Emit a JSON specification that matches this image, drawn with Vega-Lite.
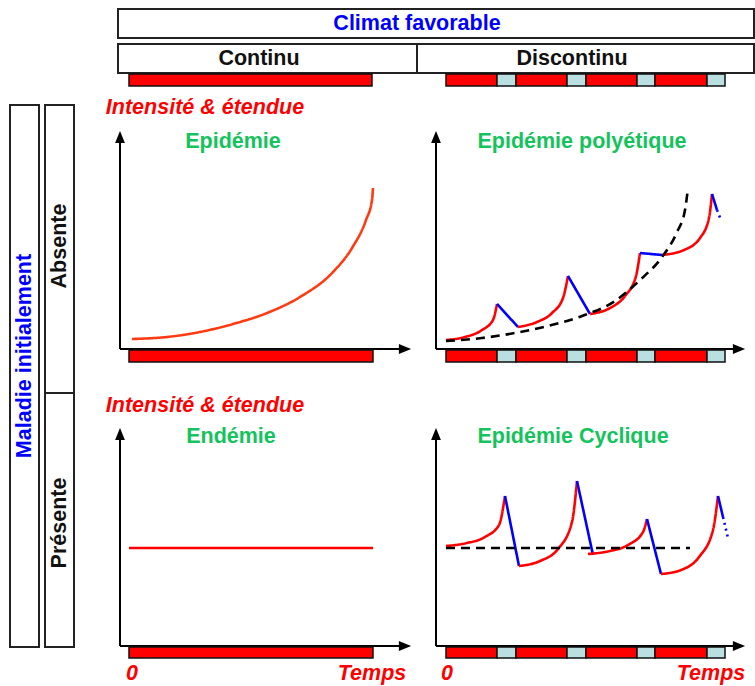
{
  "$schema": "https://vega.github.io/schema/vega-lite/v6.json",
  "width": 755,
  "height": 686,
  "autosize": {"type": "fit", "contains": "padding"},
  "padding": 0,
  "background": "white",
  "config": {"view": {"stroke": null}},
  "datasets": {
    "boxes": [
      {"name": "climat", "x1": 118, "x2": 754, "y1": 9, "y2": 38},
      {"name": "regime", "x1": 118, "x2": 754, "y1": 44, "y2": 73},
      {"name": "maladie", "x1": 10, "x2": 39, "y1": 105, "y2": 647},
      {"name": "etat", "x1": 45, "x2": 74, "y1": 105, "y2": 647}
    ],
    "dividers": [
      {"x1": 417, "x2": 417, "y1": 44, "y2": 73},
      {"x1": 45, "x2": 74, "y1": 393, "y2": 393}
    ],
    "bars": [
      {"panel": "header-continu", "phase": "favorable", "x1": 129, "x2": 372, "y1": 74, "y2": 86},
      {"panel": "header-discontinu", "phase": "favorable", "x1": 446, "x2": 497, "y1": 74, "y2": 86},
      {"panel": "header-discontinu", "phase": "defavorable", "x1": 497, "x2": 516, "y1": 74, "y2": 86},
      {"panel": "header-discontinu", "phase": "favorable", "x1": 516, "x2": 567, "y1": 74, "y2": 86},
      {"panel": "header-discontinu", "phase": "defavorable", "x1": 567, "x2": 586, "y1": 74, "y2": 86},
      {"panel": "header-discontinu", "phase": "favorable", "x1": 586, "x2": 637, "y1": 74, "y2": 86},
      {"panel": "header-discontinu", "phase": "defavorable", "x1": 637, "x2": 655, "y1": 74, "y2": 86},
      {"panel": "header-discontinu", "phase": "favorable", "x1": 655, "x2": 707, "y1": 74, "y2": 86},
      {"panel": "header-discontinu", "phase": "defavorable", "x1": 707, "x2": 725, "y1": 74, "y2": 86},
      {"panel": "epidemie", "phase": "favorable", "x1": 129, "x2": 373, "y1": 350, "y2": 362},
      {"panel": "polyetique", "phase": "favorable", "x1": 446, "x2": 497, "y1": 350, "y2": 362},
      {"panel": "polyetique", "phase": "defavorable", "x1": 497, "x2": 516, "y1": 350, "y2": 362},
      {"panel": "polyetique", "phase": "favorable", "x1": 516, "x2": 567, "y1": 350, "y2": 362},
      {"panel": "polyetique", "phase": "defavorable", "x1": 567, "x2": 586, "y1": 350, "y2": 362},
      {"panel": "polyetique", "phase": "favorable", "x1": 586, "x2": 637, "y1": 350, "y2": 362},
      {"panel": "polyetique", "phase": "defavorable", "x1": 637, "x2": 655, "y1": 350, "y2": 362},
      {"panel": "polyetique", "phase": "favorable", "x1": 655, "x2": 707, "y1": 350, "y2": 362},
      {"panel": "polyetique", "phase": "defavorable", "x1": 707, "x2": 725, "y1": 350, "y2": 362},
      {"panel": "endemie", "phase": "favorable", "x1": 129, "x2": 373, "y1": 647, "y2": 658},
      {"panel": "cyclique", "phase": "favorable", "x1": 446, "x2": 497, "y1": 647, "y2": 658},
      {"panel": "cyclique", "phase": "defavorable", "x1": 497, "x2": 516, "y1": 647, "y2": 658},
      {"panel": "cyclique", "phase": "favorable", "x1": 516, "x2": 567, "y1": 647, "y2": 658},
      {"panel": "cyclique", "phase": "defavorable", "x1": 567, "x2": 586, "y1": 647, "y2": 658},
      {"panel": "cyclique", "phase": "favorable", "x1": 586, "x2": 637, "y1": 647, "y2": 658},
      {"panel": "cyclique", "phase": "defavorable", "x1": 637, "x2": 655, "y1": 647, "y2": 658},
      {"panel": "cyclique", "phase": "favorable", "x1": 655, "x2": 707, "y1": 647, "y2": 658},
      {"panel": "cyclique", "phase": "defavorable", "x1": 707, "x2": 725, "y1": 647, "y2": 658}
    ],
    "axes": [
      {"panel": "epidemie", "x1": 120, "y1": 140, "x2": 120, "y2": 349},
      {"panel": "epidemie", "x1": 120, "y1": 349, "x2": 403, "y2": 349},
      {"panel": "polyetique", "x1": 436, "y1": 140, "x2": 436, "y2": 349},
      {"panel": "polyetique", "x1": 436, "y1": 349, "x2": 737, "y2": 349},
      {"panel": "endemie", "x1": 120, "y1": 437, "x2": 120, "y2": 646},
      {"panel": "endemie", "x1": 120, "y1": 646, "x2": 403, "y2": 646},
      {"panel": "cyclique", "x1": 436, "y1": 437, "x2": 436, "y2": 646},
      {"panel": "cyclique", "x1": 436, "y1": 646, "x2": 737, "y2": 646}
    ],
    "arrows": [
      {"panel": "epidemie", "dir": "up", "x": 120, "y": 137},
      {"panel": "epidemie", "dir": "right", "x": 405, "y": 349},
      {"panel": "polyetique", "dir": "up", "x": 436, "y": 137},
      {"panel": "polyetique", "dir": "right", "x": 739, "y": 349},
      {"panel": "endemie", "dir": "up", "x": 120, "y": 434},
      {"panel": "endemie", "dir": "right", "x": 405, "y": 646},
      {"panel": "cyclique", "dir": "up", "x": 436, "y": 434},
      {"panel": "cyclique", "dir": "right", "x": 739, "y": 646}
    ],
    "curves": [
      {"seg": "e1", "kind": "croissance continue", "x": 132, "y": 339},
      {"seg": "e1", "kind": "croissance continue", "x": 167, "y": 337},
      {"seg": "e1", "kind": "croissance continue", "x": 200, "y": 332},
      {"seg": "e1", "kind": "croissance continue", "x": 233, "y": 324},
      {"seg": "e1", "kind": "croissance continue", "x": 267, "y": 313},
      {"seg": "e1", "kind": "croissance continue", "x": 300, "y": 297},
      {"seg": "e1", "kind": "croissance continue", "x": 333, "y": 272},
      {"seg": "e1", "kind": "croissance continue", "x": 352, "y": 248},
      {"seg": "e1", "kind": "croissance continue", "x": 366, "y": 220},
      {"seg": "e1", "kind": "croissance continue", "x": 372, "y": 200},
      {"seg": "e1", "kind": "croissance continue", "x": 373, "y": 188},

      {"seg": "p1", "kind": "croissance", "x": 446, "y": 340},
      {"seg": "p1", "kind": "croissance", "x": 465, "y": 337},
      {"seg": "p1", "kind": "croissance", "x": 482, "y": 330},
      {"seg": "p1", "kind": "croissance", "x": 493, "y": 320},
      {"seg": "p1", "kind": "croissance", "x": 497, "y": 304},
      {"seg": "pb1", "kind": "declin", "x": 497, "y": 304},
      {"seg": "pb1", "kind": "declin", "x": 518, "y": 327},
      {"seg": "p2", "kind": "croissance", "x": 518, "y": 327},
      {"seg": "p2", "kind": "croissance", "x": 537, "y": 322},
      {"seg": "p2", "kind": "croissance", "x": 552, "y": 313},
      {"seg": "p2", "kind": "croissance", "x": 563, "y": 298},
      {"seg": "p2", "kind": "croissance", "x": 568, "y": 276},
      {"seg": "pb2", "kind": "declin", "x": 568, "y": 276},
      {"seg": "pb2", "kind": "declin", "x": 590, "y": 314},
      {"seg": "p3", "kind": "croissance", "x": 590, "y": 314},
      {"seg": "p3", "kind": "croissance", "x": 610, "y": 308},
      {"seg": "p3", "kind": "croissance", "x": 625, "y": 296},
      {"seg": "p3", "kind": "croissance", "x": 636, "y": 276},
      {"seg": "p3", "kind": "croissance", "x": 640, "y": 253},
      {"seg": "pb3", "kind": "declin", "x": 640, "y": 253},
      {"seg": "pb3", "kind": "declin", "x": 662, "y": 255},
      {"seg": "p4", "kind": "croissance", "x": 662, "y": 255},
      {"seg": "p4", "kind": "croissance", "x": 684, "y": 250},
      {"seg": "p4", "kind": "croissance", "x": 700, "y": 238},
      {"seg": "p4", "kind": "croissance", "x": 709, "y": 218},
      {"seg": "p4", "kind": "croissance", "x": 712, "y": 194},
      {"seg": "pb4", "kind": "declin", "x": 712, "y": 194},
      {"seg": "pb4", "kind": "declin", "x": 717, "y": 210},
      {"seg": "pd4", "kind": "declin suite", "x": 717, "y": 210},
      {"seg": "pd4", "kind": "declin suite", "x": 721, "y": 220},
      {"seg": "pt", "kind": "tendance", "x": 446, "y": 341},
      {"seg": "pt", "kind": "tendance", "x": 482, "y": 338},
      {"seg": "pt", "kind": "tendance", "x": 515, "y": 333},
      {"seg": "pt", "kind": "tendance", "x": 548, "y": 326},
      {"seg": "pt", "kind": "tendance", "x": 582, "y": 316},
      {"seg": "pt", "kind": "tendance", "x": 615, "y": 301},
      {"seg": "pt", "kind": "tendance", "x": 640, "y": 280},
      {"seg": "pt", "kind": "tendance", "x": 662, "y": 257},
      {"seg": "pt", "kind": "tendance", "x": 677, "y": 232},
      {"seg": "pt", "kind": "tendance", "x": 685, "y": 210},
      {"seg": "pt", "kind": "tendance", "x": 688, "y": 188},

      {"seg": "n1", "kind": "croissance", "x": 129, "y": 548},
      {"seg": "n1", "kind": "croissance", "x": 373, "y": 548},

      {"seg": "c1", "kind": "croissance", "x": 446, "y": 546},
      {"seg": "c1", "kind": "croissance", "x": 467, "y": 543},
      {"seg": "c1", "kind": "croissance", "x": 485, "y": 537},
      {"seg": "c1", "kind": "croissance", "x": 499, "y": 525},
      {"seg": "c1", "kind": "croissance", "x": 505, "y": 496},
      {"seg": "cb1", "kind": "declin", "x": 505, "y": 496},
      {"seg": "cb1", "kind": "declin", "x": 519, "y": 566},
      {"seg": "c2", "kind": "croissance", "x": 519, "y": 566},
      {"seg": "c2", "kind": "croissance", "x": 540, "y": 561},
      {"seg": "c2", "kind": "croissance", "x": 558, "y": 549},
      {"seg": "c2", "kind": "croissance", "x": 572, "y": 522},
      {"seg": "c2", "kind": "croissance", "x": 577, "y": 481},
      {"seg": "cb2", "kind": "declin", "x": 577, "y": 481},
      {"seg": "cb2", "kind": "declin", "x": 593, "y": 555},
      {"seg": "c3", "kind": "croissance", "x": 588, "y": 554},
      {"seg": "c3", "kind": "croissance", "x": 610, "y": 551},
      {"seg": "c3", "kind": "croissance", "x": 628, "y": 545},
      {"seg": "c3", "kind": "croissance", "x": 643, "y": 532},
      {"seg": "c3", "kind": "croissance", "x": 647, "y": 519},
      {"seg": "cb3", "kind": "declin", "x": 647, "y": 519},
      {"seg": "cb3", "kind": "declin", "x": 661, "y": 574},
      {"seg": "c4", "kind": "croissance", "x": 661, "y": 574},
      {"seg": "c4", "kind": "croissance", "x": 681, "y": 570},
      {"seg": "c4", "kind": "croissance", "x": 699, "y": 557},
      {"seg": "c4", "kind": "croissance", "x": 713, "y": 530},
      {"seg": "c4", "kind": "croissance", "x": 718, "y": 496},
      {"seg": "cb4", "kind": "declin", "x": 718, "y": 496},
      {"seg": "cb4", "kind": "declin", "x": 723, "y": 517},
      {"seg": "cd4", "kind": "declin suite", "x": 723, "y": 517},
      {"seg": "cd4", "kind": "declin suite", "x": 728, "y": 538},
      {"seg": "ct", "kind": "tendance", "x": 446, "y": 548},
      {"seg": "ct", "kind": "tendance", "x": 690, "y": 548}
    ],
    "labels": [
      {"role": "titre", "text": "Climat favorable", "x": 417, "y": 24, "angle": 0},
      {"role": "titre", "text": "Maladie initialement", "x": 25, "y": 356, "angle": 270},
      {"role": "categorie", "text": "Continu", "x": 259, "y": 59, "angle": 0},
      {"role": "categorie", "text": "Discontinu", "x": 572, "y": 59, "angle": 0},
      {"role": "categorie", "text": "Absente", "x": 60, "y": 246, "angle": 270},
      {"role": "categorie", "text": "Présente", "x": 60, "y": 523, "angle": 270},
      {"role": "axe", "text": "Intensité & étendue", "x": 205, "y": 108, "angle": 0},
      {"role": "axe", "text": "Intensité & étendue", "x": 205, "y": 406, "angle": 0},
      {"role": "axe", "text": "0", "x": 132, "y": 674, "angle": 0},
      {"role": "axe", "text": "Temps", "x": 372, "y": 674, "angle": 0},
      {"role": "axe", "text": "0", "x": 447, "y": 674, "angle": 0},
      {"role": "axe", "text": "Temps", "x": 711, "y": 674, "angle": 0},
      {"role": "scenario", "text": "Epidémie", "x": 233, "y": 142, "angle": 0},
      {"role": "scenario", "text": "Epidémie polyétique", "x": 582, "y": 142, "angle": 0},
      {"role": "scenario", "text": "Endémie", "x": 231, "y": 437, "angle": 0},
      {"role": "scenario", "text": "Epidémie Cyclique", "x": 573, "y": 437, "angle": 0}
    ]
  },
  "encoding": {
    "x": {"field": "x", "type": "quantitative", "scale": {"domain": [0, 755], "nice": false, "zero": false}, "axis": null},
    "y": {"field": "y", "type": "quantitative", "scale": {"domain": [0, 686], "nice": false, "zero": false, "reverse": true}, "axis": null}
  },
  "layer": [
    {
      "data": {"name": "boxes"},
      "mark": {"type": "rect", "fill": "white", "stroke": "#222222", "strokeWidth": 2},
      "encoding": {
        "x": {"field": "x1", "type": "quantitative"},
        "x2": {"field": "x2"},
        "y": {"field": "y1", "type": "quantitative"},
        "y2": {"field": "y2"}
      }
    },
    {
      "data": {"name": "dividers"},
      "mark": {"type": "rule", "stroke": "#222222", "strokeWidth": 2},
      "encoding": {
        "x": {"field": "x1", "type": "quantitative"},
        "x2": {"field": "x2"},
        "y": {"field": "y1", "type": "quantitative"},
        "y2": {"field": "y2"}
      }
    },
    {
      "data": {"name": "axes"},
      "mark": {"type": "rule", "stroke": "black", "strokeWidth": 2},
      "encoding": {
        "x": {"field": "x1", "type": "quantitative"},
        "x2": {"field": "x2"},
        "y": {"field": "y1", "type": "quantitative"},
        "y2": {"field": "y2"}
      }
    },
    {
      "data": {"name": "arrows"},
      "mark": {"type": "point", "filled": true, "color": "black", "opacity": 1, "size": 150},
      "encoding": {
        "shape": {"field": "dir", "type": "nominal", "legend": null,
          "scale": {"domain": ["up", "right"], "range": ["M0,-1L-0.8,1L0.8,1Z", "M1,0L-1,-0.8L-1,0.8Z"]}}
      }
    },
    {
      "data": {"name": "bars"},
      "mark": {"type": "rect", "stroke": "#111111", "strokeWidth": 1.5},
      "encoding": {
        "x": {"field": "x1", "type": "quantitative"},
        "x2": {"field": "x2"},
        "y": {"field": "y1", "type": "quantitative"},
        "y2": {"field": "y2"},
        "fill": {"field": "phase", "type": "nominal", "legend": null,
          "scale": {"domain": ["favorable", "defavorable"], "range": ["#ff0000", "#b9dfe1"]}}
      }
    },
    {
      "data": {"name": "curves"},
      "mark": {"type": "line", "interpolate": "monotone", "strokeWidth": 2.6, "strokeCap": "butt"},
      "encoding": {
        "detail": {"field": "seg", "type": "nominal"},
        "color": {"field": "kind", "type": "nominal", "legend": null,
          "scale": {"domain": ["croissance continue", "croissance", "declin", "declin suite", "tendance"],
                    "range": ["#ff3a10", "#ff0000", "#0000ff", "#0000ff", "#000000"]}},
        "strokeDash": {"field": "kind", "type": "nominal", "legend": null,
          "scale": {"domain": ["croissance continue", "croissance", "declin", "declin suite", "tendance"],
                    "range": [[1, 0], [1, 0], [1, 0], [2, 4], [9, 6]]}}
      }
    },
    {
      "data": {"name": "labels"},
      "transform": [{"filter": "datum.role === 'titre'"}],
      "mark": {"type": "text", "font": "Liberation Sans", "fontWeight": "bold", "fontSize": 21.5, "color": "#0000ff", "align": "center", "baseline": "middle"},
      "encoding": {
        "text": {"field": "text"},
        "angle": {"field": "angle", "type": "quantitative", "scale": null}
      }
    },
    {
      "data": {"name": "labels"},
      "transform": [{"filter": "datum.role === 'categorie'"}],
      "mark": {"type": "text", "font": "Liberation Sans", "fontWeight": "bold", "fontSize": 21.5, "color": "#111111", "align": "center", "baseline": "middle"},
      "encoding": {
        "text": {"field": "text"},
        "angle": {"field": "angle", "type": "quantitative", "scale": null}
      }
    },
    {
      "data": {"name": "labels"},
      "transform": [{"filter": "datum.role === 'axe'"}],
      "mark": {"type": "text", "font": "Liberation Sans", "fontWeight": "bold", "fontStyle": "italic", "fontSize": 21.5, "color": "#ff0000", "align": "center", "baseline": "middle"},
      "encoding": {
        "text": {"field": "text"}
      }
    },
    {
      "data": {"name": "labels"},
      "transform": [{"filter": "datum.role === 'scenario'"}],
      "mark": {"type": "text", "font": "Liberation Sans", "fontWeight": "bold", "fontSize": 21.5, "color": "#14c35c", "align": "center", "baseline": "middle"},
      "encoding": {
        "text": {"field": "text"}
      }
    }
  ]
}
